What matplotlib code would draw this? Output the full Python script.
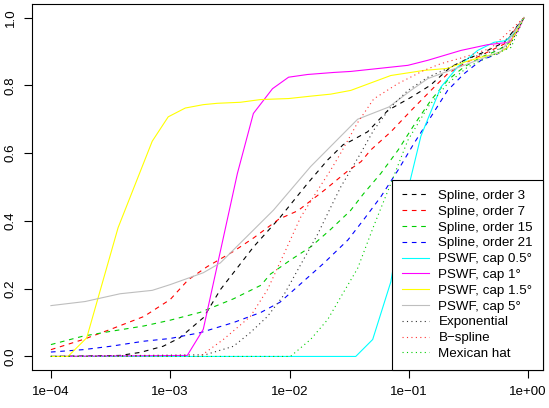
import numpy as np
import matplotlib
matplotlib.use("Agg")
import matplotlib.pyplot as plt

plt.rcParams['font.family'] = ['Liberation Sans', 'DejaVu Sans']
plt.rcParams['font.size'] = 9.6

# curves: log10(x) and y for each method
lx_spline3 = [-4.0, -3.42, -3.25, -3.06, -2.92, -2.72, -2.58, -2.30, -2.08, -1.85, -1.68,
              -1.55, -1.49, -1.345, -1.176, -0.98, -0.82, -0.65, -0.51, -0.37, -0.20, -0.034]
y_spline3 = [0.0, 0.003, 0.012, 0.03, 0.055, 0.115, 0.197, 0.324, 0.41, 0.51, 0.58,
             0.625, 0.635, 0.663, 0.726, 0.765, 0.80, 0.854, 0.878, 0.898, 0.927, 1.0]

lx_spline7 = [-4.0, -3.73, -3.50, -3.22, -3.0, -2.85, -2.69, -2.47, -2.30, -2.09, -1.93,
              -1.71, -1.52, -1.40, -1.32, -1.15, -0.98, -0.815, -0.675, -0.538, -0.34, -0.20, -0.034]
y_spline7 = [0.02, 0.05, 0.08, 0.118, 0.168, 0.226, 0.265, 0.31, 0.35, 0.405, 0.43,
             0.49, 0.545, 0.575, 0.609, 0.663, 0.726, 0.785, 0.834, 0.864, 0.898, 0.922, 1.0]

lx_spline15 = [-4.0, -3.73, -3.50, -3.22, -3.0, -2.75, -2.47, -2.24, -2.16, -1.99, -1.82,
               -1.655, -1.49, -1.38, -1.235, -1.09, -0.958, -0.815, -0.675, -0.538, -0.395,
               -0.255, -0.171, -0.034]
y_spline15 = [0.035, 0.06, 0.074, 0.09, 0.107, 0.13, 0.17, 0.21, 0.243, 0.285, 0.324,
              0.375, 0.43, 0.48, 0.54, 0.609, 0.682, 0.756, 0.815, 0.854, 0.883,
              0.903, 0.922, 1.0]

lx_spline21 = [-4.0, -3.73, -3.50, -3.22, -3.0, -2.75, -2.47, -2.24, -2.08, -1.93, -1.71,
               -1.51, -1.38, -1.235, -1.09, -0.958, -0.815, -0.675, -0.538, -0.395,
               -0.255, -0.171, -0.034]
y_spline21 = [0.013, 0.02, 0.03, 0.045, 0.053, 0.07, 0.10, 0.13, 0.16, 0.207, 0.276,
              0.344, 0.403, 0.471, 0.55, 0.628, 0.707, 0.785, 0.834, 0.874,
              0.893, 0.912, 1.0]

lx_pswf05 = [-4.0, -1.445, -1.303, -1.151, -1.05, -0.899, -0.731, -0.591, -0.423,
             -0.286, -0.185, -0.126, -0.034]
y_pswf05 = [0.0, 0.0, 0.05, 0.22, 0.43, 0.65, 0.795, 0.854, 0.903,
            0.927, 0.932, 0.952, 1.0]

lx_pswf1 = [-4.0, -2.857, -2.723, -2.437, -2.303, -2.143, -2.008, -1.849, -1.63, -1.487,
            -1.008, -0.84, -0.563, -0.339, -0.16, -0.087, -0.034]
y_pswf1 = [0.0, 0.003, 0.08, 0.54, 0.717, 0.79, 0.824, 0.832, 0.838, 0.841,
           0.859, 0.874, 0.903, 0.92, 0.927, 0.96, 1.0]

lx_pswf15 = [-4.0, -3.857, -3.70, -3.437, -3.151, -3.017, -2.874, -2.723, -2.605, -2.412,
             -2.244, -2.008, -1.824, -1.655, -1.487, -1.151, -0.874, -0.675, -0.538,
             -0.395, -0.255, -0.171, -0.034]
y_pswf15 = [0.0, 0.0, 0.055, 0.38, 0.635, 0.707, 0.733, 0.743, 0.747, 0.75,
            0.758, 0.761, 0.768, 0.774, 0.785, 0.829, 0.844, 0.85, 0.868,
            0.883, 0.894, 0.912, 1.0]

lx_pswf5 = [-4.0, -3.714, -3.42, -3.151, -3.0, -2.723, -2.58, -2.134, -1.824, -1.429,
            -1.168, -0.983, -0.84, -0.538, -0.227, -0.034]
y_pswf5 = [0.15, 0.162, 0.185, 0.195, 0.212, 0.247, 0.276, 0.432, 0.56, 0.70,
           0.736, 0.785, 0.82, 0.859, 0.90, 1.0]

lx_expo = [-4.0, -2.706, -2.47, -2.33, -2.185, -2.05, -1.908, -1.765, -1.655, -1.571,
           -1.403, -1.294, -1.151, -1.008, -0.84, -0.647, -0.507, -0.30, -0.15, -0.034]
y_expo = [0.0, 0.005, 0.03, 0.07, 0.118, 0.18, 0.27, 0.36, 0.44, 0.50,
          0.60, 0.668, 0.736, 0.785, 0.824, 0.854, 0.879, 0.90, 0.92, 1.0]

lx_bspline = [-4.0, -2.75, -2.555, -2.328, -2.185, -2.05, -1.908, -1.765, -1.655, -1.571,
              -1.429, -1.294, -1.092, -0.874, -0.731, -0.538, -0.31, -0.034]
y_bspline = [0.0, 0.0, 0.05, 0.118, 0.197, 0.30, 0.41, 0.49, 0.55, 0.60,
             0.69, 0.76, 0.805, 0.844, 0.864, 0.883, 0.91, 1.0]

lx_mexhat = [-4.0, -1.992, -1.824, -1.68, -1.571, -1.429, -1.294, -1.151, -1.008, -0.84,
             -0.675, -0.507, -0.339, -0.143, -0.034]
y_mexhat = [0.0, 0.0, 0.05, 0.109, 0.175, 0.26, 0.385, 0.51, 0.638, 0.736,
            0.805, 0.854, 0.883, 0.912, 1.0]

labels = ["Spline, order 3", "Spline, order 7", "Spline, order 15", "Spline, order 21",
          "PSWF, cap 0.5\u00b0", "PSWF, cap 1\u00b0", "PSWF, cap 1.5\u00b0", "PSWF, cap 5\u00b0",
          "Exponential", "B\u2212spline", "Mexican hat"]
colors = ["black", "#FF0000", "#00CD00", "#0000FF",
          "#00FFFF", "#FF00FF", "#FFFF00", "#BEBEBE",
          "#333333", "#FF3030", "#00CD00"]
dashed = (0, (4.2, 4.2))
dotted = (0, (1, 3))
styles = [dashed] * 4 + ["-"] * 4 + [dotted] * 3

xs = [lx_spline3, lx_spline7, lx_spline15, lx_spline21,
      lx_pswf05, lx_pswf1, lx_pswf15, lx_pswf5,
      lx_expo, lx_bspline, lx_mexhat]
ys = [y_spline3, y_spline7, y_spline15, y_spline21,
      y_pswf05, y_pswf1, y_pswf15, y_pswf5,
      y_expo, y_bspline, y_mexhat]

fig = plt.figure(figsize=(5.49, 4.08), dpi=100)
ax = fig.add_axes([32 / 549, 38 / 408, 511 / 549, 366 / 408])

for lx, y, c, ls, lab in zip(xs, ys, colors, styles, labels):
    ax.plot(10 ** np.array(lx), y, color=c, linestyle=ls, lw=0.8,
            dash_capstyle="butt", label=lab)

ax.set_xscale("log")
# R-style 4% padding
lo = min(min(v) for v in xs)
hi = max(max(v) for v in xs)
pad = 0.04 * (hi - lo)
ax.set_xlim(10 ** (lo - pad), 10 ** (hi + pad))
ax.set_ylim(-0.04, 1.04)

xt = [1e-4, 1e-3, 1e-2, 1e-1, 1]
ax.xaxis.set_major_locator(matplotlib.ticker.FixedLocator(xt))
ax.xaxis.set_minor_locator(matplotlib.ticker.NullLocator())
ax.set_xticklabels(["1e\u221204", "1e\u221203", "1e\u221202", "1e\u221201", "1e+00"])
ax.set_yticks([0, 0.2, 0.4, 0.6, 0.8, 1.0])
ax.set_yticklabels(["0.0", "0.2", "0.4", "0.6", "0.8", "1.0"])
for lab in ax.get_yticklabels():
    lab.set_rotation(90)
    lab.set_va("center")

ax.tick_params(axis="both", direction="out", length=5.8, width=0.8, color="black",
               labelsize=9.6, labelcolor="black")
ax.tick_params(axis="x", pad=5.5)
ax.tick_params(axis="y", pad=5)
for s in ax.spines.values():
    s.set_linewidth(0.8)
    s.set_color("black")

leg = ax.legend(loc="lower right", bbox_to_anchor=(1, 0), borderaxespad=0,
                fancybox=False, framealpha=1, edgecolor="black",
                handlelength=2.0, handletextpad=0.7, labelspacing=0.26,
                borderpad=0.75, fontsize=9.6)
leg.get_frame().set_linewidth(0.8)

fig.savefig("out.png", dpi=100)
